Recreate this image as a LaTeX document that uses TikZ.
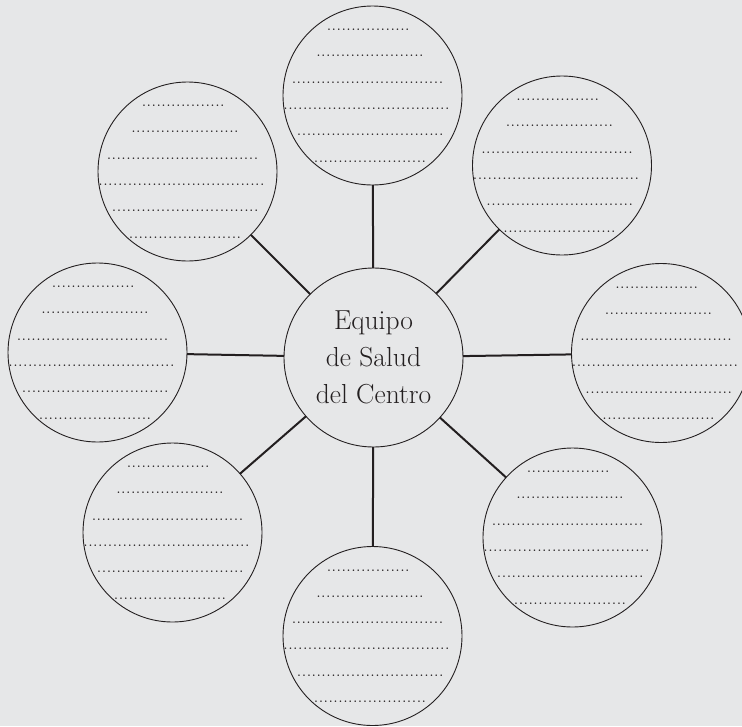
\documentclass[tikz,border=0pt]{standalone}
\definecolor{bg}{HTML}{E6E7E8}
\definecolor{ink}{HTML}{231F20}
\newcommand\dotrow[2]{\hbox to \dimexpr 4.9pt*#1\relax{\cleaders\hbox to 4.9pt{\hss.\hss}\hfill}\kern #2pt}
\newcommand\blanklines{\hbox to 0pt{\hss\vbox to 0pt{\vss\halign{\hfil##\hfil\cr
  \dotrow{17}{8.5}\cr\dotrow{22}{5}\cr\dotrow{31}{10}\cr\dotrow{34}{12}\cr\dotrow{30}{4.5}\cr\dotrow{23}{5}\cr}\vss}\hss}}
\tikzset{
  bubble/.style={circle, draw=ink, line width=0.9pt, minimum size=179pt, inner sep=0pt, outer sep=0pt,
    text=ink, font=\fontsize{11}{26.3}\selectfont\bfseries},
  hub/.style={circle, draw=ink, line width=0.9pt, minimum size=179pt, inner sep=0pt, outer sep=0pt,
    align=center, text=ink, font=\fontsize{27.5}{37}\selectfont},
  conn/.style={draw=ink, line width=2pt}
}
\begin{document}
\begin{tikzpicture}[x=1pt,y=-1pt]
\useasboundingbox (0,0) rectangle (742,726);
\fill[bg] (0,0) rectangle (742,726);
\clip (0,0) rectangle (742,726);
\node[hub] (C) at (373.5,357.5) {Equipo\\de Salud\\del Centro};
\node[bubble] (N)  at (372.5,95.5)  {\blanklines};
\node[bubble] (NE) at (562,165.5)   {\blanklines};
\node[bubble] (E)  at (661,353)     {\blanklines};
\node[bubble] (SE) at (572.5,537.5) {\blanklines};
\node[bubble] (S)  at (372.5,636)   {\blanklines};
\node[bubble] (SW) at (172.5,532.5) {\blanklines};
\node[bubble] (W)  at (97.5,352.5)  {\blanklines};
\node[bubble] (NW) at (187.5,171.5) {\blanklines};
\foreach \t in {N,NE,E,SE,S,SW,W,NW} \draw[conn] (C) -- (\t);
\end{tikzpicture}
\end{document}
